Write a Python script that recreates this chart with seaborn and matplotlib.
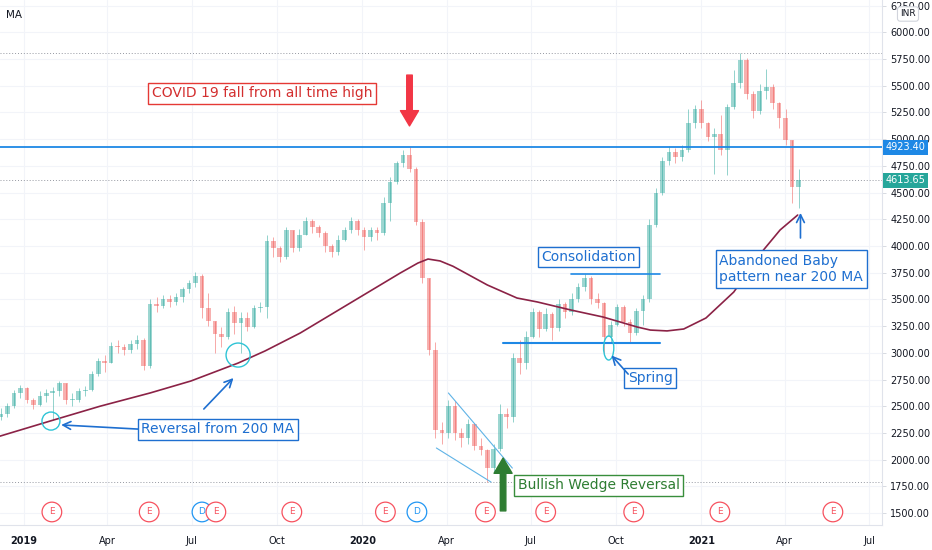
import matplotlib
matplotlib.use('Agg')
import matplotlib.dates as mdates
import matplotlib.pyplot as plt
import matplotlib.transforms as mtransforms
import numpy as np
import pandas as pd
import seaborn as sns
from matplotlib.patches import Ellipse

# weekly candles
week_start = '2018-12-07'
n_weeks = 124
first_open = 2400
closes = [2425, 2500, 2620, 2670, 2560, 2510, 2600, 2620, 2640, 2717,
          2560, 2560, 2640, 2650, 2800, 2920, 2900, 3060, 3050, 3025,
          3080, 3120, 2880, 3460, 3440, 3500, 3480, 3520, 3600, 3650,
          3720, 3420, 3300, 3180, 3150, 3380, 3280, 3330, 3240, 3420,
          3430, 4050, 3980, 3900, 4150, 3980, 4100, 4230, 4180, 4120,
          4000, 3940, 4060, 4150, 4230, 4150, 4080, 4150, 4120, 4400,
          4600, 4780, 4850, 4720, 4220, 3700, 3030, 2280, 2250, 2500,
          2250, 2200, 2330, 2130, 2090, 1920, 2100, 2430, 2400, 2950,
          2900, 3150, 3380, 3220, 3360, 3230, 3460, 3380, 3500, 3620,
          3700, 3500, 3470, 3150, 3260, 3430, 3290, 3190, 3390, 3500,
          4200, 4500, 4800, 4880, 4830, 4900, 5150, 5280, 5150, 5020,
          5050, 4900, 5300, 5530, 5740, 5420, 5260, 5450, 5490, 5340,
          5200, 4990, 4550, 4613.65]
highs = [2480, 2530, 2650, 2700, 2680, 2580, 2640, 2660, 2680, 2740,
         2720, 2620, 2670, 2690, 2830, 2950, 2980, 3100, 3120, 3080,
         3120, 3170, 3140, 3500, 3520, 3540, 3540, 3560, 3620, 3680,
         3760, 3740, 3560, 3300, 3240, 3420, 3440, 3380, 3380, 3450,
         3480, 4100, 4080, 4000, 4180, 4150, 4160, 4270, 4250, 4200,
         4140, 4020, 4100, 4180, 4270, 4250, 4180, 4180, 4180, 4460,
         4650, 4800, 4900, 4923.4, 4740, 4250, 3700, 3100, 2350, 2560,
         2550, 2300, 2380, 2340, 2200, 2100, 2150, 2520, 2480, 3000,
         3120, 3200, 3420, 3400, 3420, 3380, 3500, 3480, 3560, 3650,
         3740, 3720, 3560, 3480, 3300, 3460, 3450, 3320, 3420, 3540,
         4250, 4540, 4830, 4940, 4920, 4950, 5280, 5320, 5370, 5160,
         5100, 5230, 5330, 5650, 5807, 5760, 5450, 5520, 5660, 5520,
         5350, 5280, 4990, 4720]
lows = [2370, 2400, 2480, 2580, 2530, 2470, 2500, 2540, 2370, 2600,
        2520, 2500, 2540, 2600, 2640, 2780, 2820, 2900, 3000, 2980,
        3000, 3040, 2840, 2860, 3380, 3420, 3430, 3450, 3480, 3560,
        3620, 3330, 3250, 3000, 3050, 3130, 3180, 3000, 3200, 3230,
        3380, 3330, 3900, 3850, 3880, 3940, 3950, 4100, 4120, 4080,
        3940, 3900, 3920, 4050, 4120, 4100, 3960, 4050, 4060, 4100,
        4230, 4580, 4740, 4690, 4200, 3650, 2980, 2200, 2150, 2200,
        2180, 2120, 2150, 2090, 2040, 1790, 1880, 2080, 2300, 2350,
        2800, 2850, 3140, 3150, 3200, 3120, 3200, 3330, 3350, 3480,
        3580, 3460, 3420, 2998, 3100, 3250, 3250, 3100, 3170, 3260,
        3480, 4180, 4480, 4760, 4780, 4800, 4880, 5100, 5100, 4980,
        4670, 4850, 4660, 5280, 5480, 5380, 5200, 5240, 5380, 5280,
        5100, 4950, 4400, 4355]

# 200 day moving average, read at a few points
ma_dates = ['2018-12-06', '2019-01-29', '2019-03-24', '2019-05-17', '2019-06-30',
            '2019-08-20', '2019-09-18', '2019-10-26', '2019-12-19', '2020-02-11',
            '2020-03-01', '2020-03-12', '2020-03-25', '2020-04-08', '2020-05-15',
            '2020-06-16', '2020-07-08', '2020-08-13', '2020-09-17', '2020-10-24',
            '2020-11-07', '2020-11-25', '2020-12-13', '2021-01-06', '2021-02-05',
            '2021-03-09', '2021-03-27', '2021-04-15']
ma_values = [2220, 2361, 2500, 2624, 2736, 2904, 3017, 3185, 3466, 3747,
             3840, 3878, 3860, 3810, 3635, 3513, 3476, 3401, 3335, 3241,
             3213, 3205, 3223, 3326, 3569, 3962, 4150, 4290]

resistance = 4923.40
event_dates = ['2019-01-31', '2019-05-16', '2019-07-12', '2019-07-27', '2019-10-17',
               '2020-01-26', '2020-02-29', '2020-05-13', '2020-07-17', '2020-10-20',
               '2021-01-21', '2021-05-23']
event_kinds = ['E', 'E', 'D', 'E', 'E', 'E', 'D', 'E', 'E', 'E', 'E', 'E']

tick_dates = ['2019-01-01', '2019-04-01', '2019-07-01', '2019-10-01', '2020-01-01',
              '2020-04-01', '2020-07-01', '2020-10-01', '2021-01-01', '2021-04-01',
              '2021-07-01']
tick_labels = ['2019', 'Apr', 'Jul', 'Oct', '2020', 'Apr', 'Jul', 'Oct', '2021', 'Apr', 'Jul']
price_ticks = list(range(1500, 6251, 250))


def d(s):
    return mdates.date2num(pd.Timestamp(s))


sns.set_style('white')
plt.rcParams['font.family'] = ['DejaVu Sans']

fig = plt.figure(figsize=(9.32, 5.5), dpi=100)
ax = fig.add_axes([0, 25 / 550, 882 / 932, 525 / 550])

dates = pd.date_range(week_start, periods=n_weeks, freq='7D')
df = pd.DataFrame({'date': mdates.date2num(dates), 'open': [first_open] + closes[:-1],
                   'high': highs, 'low': lows, 'close': closes})
up = df['close'] >= df['open']
cols = np.where(up, '#26a69a', '#ef5350')
ax.vlines(df['date'], df['low'], df['high'], colors=cols, lw=0.7, alpha=0.5, zorder=2)
ax.bar(df['date'], (df['close'] - df['open']).abs().clip(lower=10),
       bottom=df[['open', 'close']].min(axis=1), width=5, color=cols, alpha=0.45,
       lw=0, zorder=2)

ma_df = pd.DataFrame({'date': mdates.date2num(pd.to_datetime(ma_dates)), 'ma': ma_values})
sns.lineplot(data=ma_df, x='date', y='ma', ax=ax, color='#8b2246', lw=1.2, zorder=3)

# reference lines
ax.axhline(resistance, color='#1e88e5', lw=1.3, zorder=3)
ax.axhline(max(highs), color='#9598a1', lw=0.7, ls=(0, (1, 2)), zorder=1)
ax.axhline(min(lows), color='#9598a1', lw=0.7, ls=(0, (1, 2)), zorder=1)
ax.axhline(closes[-1], color='#9598a1', lw=0.7, ls=(0, (1, 2)), zorder=1)

ax.set_xlim(d('2018-12-06'), d('2021-07-15'))
ax.set_ylim(1388, 6303)

# axes
ax.yaxis.tick_right()
ax.set_yticks(price_ticks)
ax.set_yticklabels([f'{v:.2f}' for v in price_ticks])
ax.set_xticks([d(t) for t in tick_dates])
ax.set_xticklabels(tick_labels)
for lab in ax.get_xticklabels():
    if lab.get_text().isdigit():
        lab.set_fontweight('bold')
ax.tick_params(axis='both', labelsize=7, colors='#131722', length=3, width=0.6)
ax.tick_params(axis='both', color='#d1d4dc')
ax.tick_params(axis='y', pad=3)
ax.tick_params(axis='x', pad=5)
ax.grid(True, color='#f2f4f9', lw=0.8, zorder=0)
ax.set_xlabel('')
ax.set_ylabel('')
for s in ['top', 'left']:
    ax.spines[s].set_visible(False)
for s in ['right', 'bottom']:
    ax.spines[s].set_color('#e0e3eb')
    ax.spines[s].set_linewidth(0.8)

trans = mtransforms.blended_transform_factory(ax.transAxes, ax.transData)
ax.text(1.004, resistance, f'{resistance:.2f}', transform=trans, ha='left', va='center',
        fontsize=7, color='white', clip_on=False, zorder=6,
        bbox=dict(boxstyle='square,pad=0.25', fc='#1e88e5', ec='none'))
ax.text(1.004, closes[-1], f'{closes[-1]:.2f}', transform=trans, ha='left', va='center',
        fontsize=7, color='white', clip_on=False, zorder=6,
        bbox=dict(boxstyle='square,pad=0.25', fc='#26a69a', ec='none'))
ax.text(6 / 882, 1 - 15 / 525, 'MA', transform=ax.transAxes, fontsize=7.5, color='#131722',
        va='center')
fig.text(908 / 932, 1 - 14 / 550, 'INR', fontsize=6.5, color='#131722', ha='center', va='center',
         bbox=dict(boxstyle='round,pad=0.3', fc='white', ec='#d1d4dc', lw=0.8))

# earnings / dividend markers
ev_cols = ['#f7525f' if k == 'E' else '#2196f3' for k in event_kinds]
ax.scatter([d(t) for t in event_dates], [1510] * len(event_dates), s=200, facecolors='white',
           edgecolors=ev_cols, lw=0.9, zorder=4)
for t, k, c in zip(event_dates, event_kinds, ev_cols):
    ax.text(d(t), 1510, k, color=c, fontsize=6.5, ha='center', va='center', zorder=5)

# drawings
blue = '#1e6fd0'
cyan = '#2ec4d6'


def label(x, y, s, color, edge, **kw):
    ax.text(d(x), y, s, color=color, fontsize=10, ha='center', va='center', zorder=7,
            bbox=dict(boxstyle='square,pad=0.25', fc='white', ec=edge, lw=1), **kw)


def arrow(x0, y0, x1, y1, color, lw=1.2):
    ax.annotate('', xy=(d(x1), y1), xytext=(d(x0), y0), zorder=7,
                arrowprops=dict(arrowstyle='->', color=color, lw=lw, mutation_scale=14,
                                shrinkA=0, shrinkB=0))


label('2019-09-15', 5432, 'COVID 19 fall from all time high', '#d32f2f', '#e53935')
ax.annotate('', xy=(d('2020-02-21'), 5124), xytext=(d('2020-02-21'), 5600), zorder=7,
            arrowprops=dict(width=4, headwidth=13, headlength=11, color='#f23645', shrink=0))

label('2019-07-29', 2286, 'Reversal from 200 MA', blue, blue)
arrow('2019-05-04', 2286, '2019-02-10', 2325, blue)
arrow('2019-07-14', 2474, '2019-08-15', 2764, blue)
ax.add_patch(Ellipse((d('2019-01-30'), 2361), 19.4, 169, fill=False, ec=cyan, lw=1, zorder=6))
ax.add_patch(Ellipse((d('2019-08-20'), 2979), 26, 225, fill=False, ec=cyan, lw=1, zorder=6))

# falling wedge
ax.plot([d('2020-04-03'), d('2020-06-11')], [2624, 1921], color='#5fb3e6', lw=0.8, zorder=4)
ax.plot([d('2020-03-21'), d('2020-05-19')], [2109, 1790], color='#5fb3e6', lw=0.8, zorder=4)
label('2020-09-12', 1762, 'Bullish Wedge Reversal', '#2e7d32', '#388e3c')
ax.annotate('', xy=(d('2020-06-01'), 2015), xytext=(d('2020-06-01'), 1520), zorder=7,
            arrowprops=dict(width=4, headwidth=13, headlength=11, color='#2e7d32', shrink=0))

# consolidation range
ax.plot([d('2020-08-13'), d('2020-11-17')], [3738, 3738], color='#1e88e5', lw=1.2, zorder=4)
ax.plot([d('2020-06-01'), d('2020-11-17')], [3092, 3092], color='#1e88e5', lw=1.5, zorder=4)
label('2020-09-01', 3897, 'Consolidation', blue, blue)
label('2020-11-07', 2764, 'Spring', blue, blue)
arrow('2020-10-14', 2801, '2020-09-26', 2975, blue)
ax.add_patch(Ellipse((d('2020-09-23'), 3045), 11, 225, fill=False, ec=cyan, lw=1, zorder=6))

label('2021-04-08', 3785, 'Abandoned Baby\npattern near 200 MA', blue, blue,
      multialignment='left', linespacing=1.25)
arrow('2021-04-18', 4075, '2021-04-18', 4310, blue)

fig.savefig('out.png', dpi=100)
